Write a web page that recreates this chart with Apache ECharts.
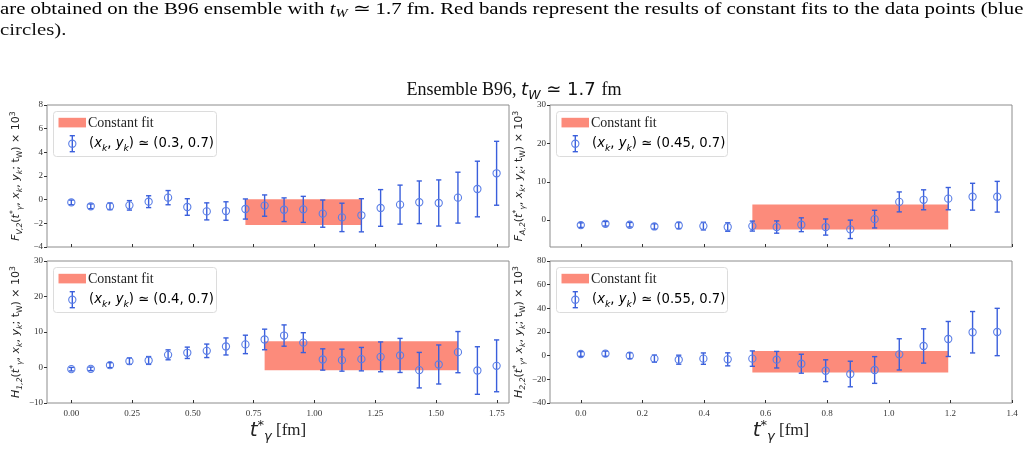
<!DOCTYPE html>
<html>
<head>
<meta charset="utf-8">
<script src="https://cdn.jsdelivr.net/npm/echarts@6/dist/echarts.min.js"></script>
<style>
html,body{margin:0;padding:0;background:#fff;}
#main{width:1028px;height:471px;}
</style>
</head>
<body>
<div id="main"></div>
<script>
// t*_gamma in fm (lattice time slices, a ~ 0.0795 fm)
var tStar = [0.000, 0.080, 0.159, 0.239, 0.318, 0.398, 0.477, 0.557, 0.636, 0.716, 0.795, 0.875,
    0.954, 1.034, 1.113, 1.193, 1.272, 1.352, 1.431, 1.511, 1.590, 1.670, 1.749];

// F_V,2 , (x_k,y_k) = (0.3,0.7)
var fvY = [-0.23, -0.56, -0.56, -0.48, -0.17, 0.17, -0.62, -0.99, -0.96, -0.79, -0.50, -0.85,
    -0.82, -1.18, -1.50, -1.32, -0.70, -0.42, -0.22, -0.28, 0.17, 0.90, 2.23];
var fvErr = [0.20, 0.20, 0.28, 0.40, 0.50, 0.60, 0.70, 0.72, 0.78, 0.85, 0.90, 1.00,
    1.10, 1.15, 1.20, 1.40, 1.55, 1.65, 1.80, 1.95, 2.15, 2.35, 2.70];
var fvFit = [0.716, 1.193, -2.15, 0.03];

// F_A,2 , (0.45,0.7)
var faY = [-1.3, -0.95, -1.2, -1.65, -1.4, -1.55, -1.8, -1.55, -1.8, -1.2, -1.8, -2.4,
    0.26, 4.75, 5.3, 5.6, 6.1, 6.1];
var faErr = [0.6, 0.6, 0.6, 0.7, 0.8, 1.0, 1.1, 1.3, 1.6, 1.8, 2.1, 2.4,
    2.3, 2.6, 2.6, 2.9, 3.5, 4.0];
var faFit = [0.557, 1.193, -2.45, 4.05];

// H_1,2 , (0.4,0.7)
var h1Y = [-0.47, -0.38, 0.66, 1.79, 1.98, 3.57, 4.14, 4.7, 5.93, 6.5, 7.9, 9.0,
    7.0, 2.26, 2.07, 2.35, 3.0, 3.4, -0.75, 0.85, 4.33, -0.85, 0.47];
var h1Err = [0.5, 0.5, 0.7, 0.9, 1.1, 1.4, 1.6, 1.9, 2.4, 2.6, 2.9, 3.0,
    2.8, 3.0, 3.1, 3.3, 4.2, 4.8, 5.0, 5.5, 5.8, 6.7, 7.3];
var h1Fit = [0.795, 1.590, -0.8, 7.4];

// H_2,2 , (0.55,0.7)
var h2Y = [1.4, 1.7, 0.0, -2.5, -3.4, -2.5, -3.1, -2.5, -3.4, -6.8, -12.7, -15.5,
    -12.1, 1.1, 8.2, 14.1, 19.8, 20.0];
var h2Err = [2.0, 2.2, 2.5, 3.0, 3.8, 4.8, 5.5, 6.5, 7.0, 8.0, 9.2, 10.8,
    11.3, 13.2, 14.5, 14.8, 17.5, 20.0];
var h2Fit = [0.557, 1.193, -14.2, 4.0];

// tick values
var xTicksL = [0, 0.25, 0.5, 0.75, 1.0, 1.25, 1.5, 1.75];
var xTicksR = [0, 0.2, 0.4, 0.6, 0.8, 1.0, 1.2, 1.4];
var yTicksFV = [-4, -2, 0, 2, 4, 6, 8];
var yTicksFA = [0, 10, 20, 30];
var yTicksH1 = [-10, 0, 10, 20, 30];
var yTicksH2 = [-40, -20, 0, 20, 40, 60, 80];

var barColor = '#3a5fdc';
var ringColor = '#5a7ee6';
var bandColor = '#fc8b7b';
var serif = 'Liberation Serif';
var sans = 'DejaVu Sans';

function mathRich(size) {
    var small = Math.round(size * 0.7 * 10) / 10;
    var lh = Math.round(size * 1.35);
    return {
        n: {fontFamily: sans, fontSize: size, lineHeight: lh, color: '#222', fontWeight: 'normal'},
        i: {fontFamily: sans, fontSize: size, fontStyle: 'italic', lineHeight: lh, color: '#222', fontWeight: 'normal'},
        s: {fontFamily: sans, fontSize: small, fontStyle: 'italic', lineHeight: small, verticalAlign: 'bottom', color: '#222', fontWeight: 'normal'},
        sn: {fontFamily: sans, fontSize: small, lineHeight: small, verticalAlign: 'bottom', color: '#222', fontWeight: 'normal'},
        p: {fontFamily: sans, fontSize: small, lineHeight: small, verticalAlign: 'top', color: '#222', fontWeight: 'normal'},
        r: {fontFamily: serif, fontSize: size, lineHeight: lh, color: '#222', fontWeight: 'normal'}
    };
}

function yName(f, idx) {
    return '{i|' + f + '}{s|' + idx + '}{n|(}{i|t}{p|*}{s|γ}{n|, }{i|x}{s|k}{n|, }{i|y}{s|k}{n|; t}{sn|W}{n|) × 10}{p|3}';
}

var panels = [
    {l: 47, t: 105, y: fvY, err: fvErr, fit: fvFit, xr: [-0.1, 1.8], xt: xTicksL, xd: 2,
        yr: [-4, 8], yt: yTicksFV, name: yName('F', 'V,2'), lab: '0.3, 0.7', bw: 163, bottom: false},
    {l: 550, t: 105, y: faY, err: faErr, fit: faFit, xr: [-0.1, 1.4], xt: xTicksR, xd: 1,
        yr: [-7, 30], yt: yTicksFA, name: yName('F', 'A,2'), lab: '0.45, 0.7', bw: 171, bottom: false},
    {l: 47, t: 261, y: h1Y, err: h1Err, fit: h1Fit, xr: [-0.1, 1.8], xt: xTicksL, xd: 2,
        yr: [-10, 30], yt: yTicksH1, name: yName('H', '1,2'), lab: '0.4, 0.7', bw: 163, bottom: true},
    {l: 550, t: 261, y: h2Y, err: h2Err, fit: h2Fit, xr: [-0.1, 1.4], xt: xTicksR, xd: 1,
        yr: [-40, 80], yt: yTicksH2, name: yName('H', '2,2'), lab: '0.55, 0.7', bw: 171, bottom: true}
];
var PW = 462, PH = 142;

function renderError(params, api) {
    var x = api.value(0), y = api.value(1), e = api.value(2);
    var a = api.coord([x, y + e]);
    var b = api.coord([x, y - e]);
    var m = api.coord([x, y]);
    var cap = 2.6;
    var st = {stroke: barColor, lineWidth: 1.4};
    return {
        type: 'group',
        children: [
            {type: 'line', shape: {x1: a[0], y1: a[1], x2: b[0], y2: b[1]}, style: st},
            {type: 'line', shape: {x1: a[0] - cap, y1: a[1], x2: a[0] + cap, y2: a[1]}, style: st},
            {type: 'line', shape: {x1: b[0] - cap, y1: b[1], x2: b[0] + cap, y2: b[1]}, style: st},
            {type: 'circle', shape: {cx: m[0], cy: m[1], r: 3.6}, style: {fill: 'none', stroke: ringColor, lineWidth: 1.1}}
        ]
    };
}

function renderBand(params, api) {
    var p0 = api.coord([api.value(0), api.value(3)]);
    var p1 = api.coord([api.value(1), api.value(2)]);
    return {
        type: 'rect',
        shape: {x: p0[0], y: p0[1], width: p1[0] - p0[0], height: p1[1] - p0[1]},
        style: {fill: bandColor}
    };
}

var grids = [], xAxes = [], yAxes = [], series = [], graphics = [];

panels.forEach(function (p, k) {
    grids.push({left: p.l, top: p.t, width: PW, height: PH, show: true,
        borderColor: '#8c8c8c', borderWidth: 1, backgroundColor: 'transparent'});
    xAxes.push({
        type: 'value', gridIndex: k, min: p.xr[0], max: p.xr[1],
        axisLine: {show: false, onZero: false},
        axisTick: {show: true, inside: true, length: 3, customValues: p.xt, lineStyle: {color: '#333'}},
        axisLabel: {show: p.bottom, customValues: p.xt, margin: 6, fontFamily: serif, fontSize: 9, color: '#333',
            formatter: function (v) { return v.toFixed(p.xd); }},
        splitLine: {show: false},
        name: p.bottom ? '{i|t}{p|*}{s|γ}{r| [fm]}' : '',
        nameLocation: 'middle', nameGap: 9,
        nameTextStyle: {rich: {
            i: {fontFamily: sans, fontSize: 20, fontStyle: 'italic', lineHeight: 24, color: '#222'},
            p: {fontFamily: sans, fontSize: 13, lineHeight: 13, verticalAlign: 'top', color: '#222'},
            s: {fontFamily: sans, fontSize: 13, fontStyle: 'italic', lineHeight: 16, verticalAlign: 'bottom', color: '#222'},
            r: {fontFamily: serif, fontSize: 17, lineHeight: 24, color: '#222'}
        }}
    });
    yAxes.push({
        type: 'value', gridIndex: k, min: p.yr[0], max: p.yr[1],
        axisLine: {show: false, onZero: false},
        axisTick: {show: true, length: 3, customValues: p.yt, lineStyle: {color: '#333'}},
        axisLabel: {customValues: p.yt, margin: 4, fontFamily: serif, fontSize: 9, color: '#333',
            formatter: function (v) { return String(v).replace('-', '\u2212'); }},
        splitLine: {show: false},
        name: p.name, nameLocation: 'middle', nameGap: 23, nameRotate: 90,
        nameTextStyle: {rich: mathRich(11)}
    });
    series.push({
        type: 'custom', xAxisIndex: k, yAxisIndex: k, renderItem: renderBand,
        data: [p.fit], encode: {x: [0, 1], y: [2, 3]}, z: 1, silent: true
    });
    series.push({
        type: 'custom', xAxisIndex: k, yAxisIndex: k, renderItem: renderError,
        data: p.y.map(function (v, i) { return [tStar[i], v, p.err[i]]; }),
        encode: {x: 0, y: 1}, z: 2, silent: true
    });

    // legend box
    var lx = p.l + 6.5, ly = p.t + 6.5;
    var ecx = p.l + 25.3, ecy = p.t + 38.7;
    var lst = {stroke: barColor, lineWidth: 1.4};
    graphics.push({type: 'rect', z: 100, shape: {x: lx, y: ly, width: p.bw, height: 45, r: 3},
        style: {fill: 'rgba(255,255,255,0.85)', stroke: '#dcdcdc', lineWidth: 1}});
    graphics.push({type: 'rect', z: 101, shape: {x: p.l + 11.5, y: p.t + 12.8, width: 27.5, height: 9.6},
        style: {fill: bandColor}});
    graphics.push({type: 'text', z: 101, x: p.l + 41, y: p.t + 18.3,
        style: {text: 'Constant fit', fontFamily: serif, fontSize: 14, fill: '#222', verticalAlign: 'middle'}});
    graphics.push({type: 'line', z: 101, shape: {x1: ecx, y1: ecy - 8, x2: ecx, y2: ecy + 8}, style: lst});
    graphics.push({type: 'line', z: 101, shape: {x1: ecx - 2.6, y1: ecy - 8, x2: ecx + 2.6, y2: ecy - 8}, style: lst});
    graphics.push({type: 'line', z: 101, shape: {x1: ecx - 2.6, y1: ecy + 8, x2: ecx + 2.6, y2: ecy + 8}, style: lst});
    graphics.push({type: 'circle', z: 101, shape: {cx: ecx, cy: ecy, r: 3.6},
        style: {fill: 'none', stroke: ringColor, lineWidth: 1.1}});
    graphics.push({type: 'text', z: 101, x: p.l + 42, y: ecy,
        style: {text: '{n|(}{i|x}{s|k}{n|, }{i|y}{s|k}{n|) ≃ (' + p.lab + ')}',
            rich: mathRich(13.2), verticalAlign: 'middle'}});
});

// caption text above the figure (stretched to mimic the wider paper font)
var capScale = 1.26;
graphics.push({type: 'text', z: 10, x: 0, y: 10, scaleX: capScale,
    style: {text: '{n|are obtained on the B96 ensemble with }{i|t}{s|W}{n| \u2243 1.7 fm. Red bands represent the results of constant fits to the data points (blue}',
        verticalAlign: 'middle',
        rich: {
            n: {fontFamily: serif, fontSize: 16.5, lineHeight: 20, color: '#111'},
            i: {fontFamily: serif, fontSize: 16.5, fontStyle: 'italic', lineHeight: 20, color: '#111'},
            s: {fontFamily: serif, fontSize: 11.5, fontStyle: 'italic', lineHeight: 11, verticalAlign: 'bottom', color: '#111'}
        }}});
graphics.push({type: 'text', z: 10, x: 0, y: 31, scaleX: capScale,
    style: {text: 'circles).', fontFamily: serif, fontSize: 16.5, fill: '#111', verticalAlign: 'middle'}});

var titleRich = {
    r: {fontFamily: serif, fontSize: 18, lineHeight: 24, color: '#111', fontWeight: 'normal'},
    i: {fontFamily: sans, fontSize: 18, fontStyle: 'italic', lineHeight: 24, color: '#111', fontWeight: 'normal'},
    s: {fontFamily: sans, fontSize: 12.5, fontStyle: 'italic', lineHeight: 12, verticalAlign: 'bottom', color: '#111', fontWeight: 'normal'},
    m: {fontFamily: sans, fontSize: 18, lineHeight: 24, color: '#111', fontWeight: 'normal'}
};

var myChart = echarts.init(document.getElementById('main'));
var option = {
    animation: false,
    backgroundColor: '#fff',
    title: {
        text: '{r|Ensemble B96, }{i|t}{s|W}{m| \u2243 1.7 }{r|fm}',
        left: 'center', top: 73,
        textStyle: {fontWeight: 'normal', rich: titleRich}
    },
    grid: grids,
    xAxis: xAxes,
    yAxis: yAxes,
    series: series,
    graphic: graphics
};
myChart.setOption(option);
</script>
</body>
</html>
